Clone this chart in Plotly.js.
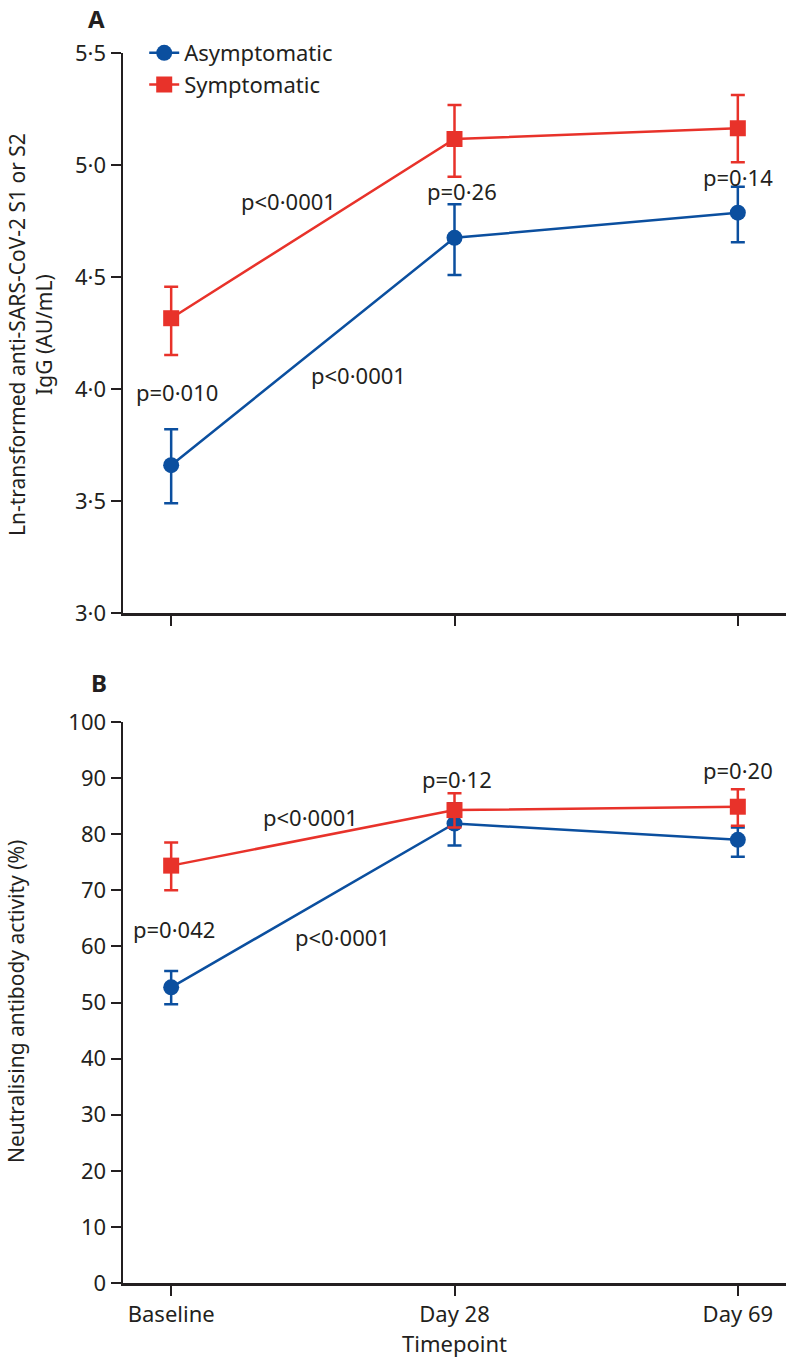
<!DOCTYPE html>
<html>
<head>
<meta charset="utf-8">
<script src="https://cdn.plot.ly/plotly-3.0.1.min.js"></script>
<style>html,body{margin:0;padding:0;background:#fff;}#chart{width:788px;height:1360px;}</style>
</head>
<body>
<div id="chart"></div>
<script>
// ---- Data ----
const timepoints = ["Baseline", "Day 28", "Day 69"];

// Panel A: Ln-transformed anti-SARS-CoV-2 S1 or S2 IgG (AU/mL)
const igAsym      = [3.66, 4.675, 4.787];
const igAsymPlus  = [0.16, 0.15, 0.116];
const igAsymMinus = [0.17, 0.166, 0.132];
const igSymp      = [4.316, 5.116, 5.164];
const igSympPlus  = [0.141, 0.152, 0.148];
const igSympMinus = [0.164, 0.168, 0.152];

// Panel B: Neutralising antibody activity (%)
const naAsym      = [52.7, 81.9, 79.0];
const naAsymPlus  = [2.9, 3.6, 2.2];
const naAsymMinus = [3.0, 3.9, 3.0];
const naSymp      = [74.4, 84.3, 84.9];
const naSympPlus  = [4.1, 3.0, 3.1];
const naSympMinus = [4.4, 3.1, 3.4];

const yTicksA = [3.0, 3.5, 4.0, 4.5, 5.0, 5.5];
const yTickTextA = ["3·0", "3·5", "4·0", "4·5", "5·0", "5·5"];
const yTicksB = [0, 10, 20, 30, 40, 50, 60, 70, 80, 90, 100];

const pLabelsA = ["p<0·0001", "p=0·26", "p=0·14", "p=0·010", "p<0·0001"];
const pLabelsB = ["p<0·0001", "p=0·12", "p=0·20", "p=0·042", "p<0·0001"];

// ---- Style ----
const BLUE = "#0b4f9f";
const RED = "#e8322a";
const INK = "#231f20";
const FONT = "Noto Sans, Open Sans, sans-serif";
const FS = 22;

function series(name, y, plus, minus, color, symbol, xa, ya, show) {
  return {
    type: "scatter", mode: "lines+markers", name: name,
    x: timepoints, y: y, xaxis: xa, yaxis: ya, showlegend: show, legendgroup: name,
    line: {color: color, width: 2.5},
    marker: {color: color, symbol: symbol, size: 16},
    error_y: {type: "data", symmetric: false, array: plus, arrayminus: minus,
              color: color, thickness: 2.5, width: 7},
    cliponaxis: false
  };
}

const traces = [
  series("Asymptomatic", igAsym, igAsymPlus, igAsymMinus, BLUE, "circle", "x", "y", true),
  series("Symptomatic", igSymp, igSympPlus, igSympMinus, RED, "square", "x", "y", true),
  series("Asymptomatic", naAsym, naAsymPlus, naAsymMinus, BLUE, "circle", "x2", "y2", false),
  series("Symptomatic", naSymp, naSympPlus, naSympMinus, RED, "square", "x2", "y2", false)
];

const T = 53, B = 77, H = 1360 - T - B;
const pxToPaperY = py => (1360 - B - py) / H;

const axisCommon = {
  showline: true, linecolor: INK, linewidth: 2.5,
  ticks: "outside", ticklen: 10, tickwidth: 2, tickcolor: INK,
  showgrid: false, zeroline: false,
  tickfont: {family: FONT, size: FS, color: INK}
};

function pAnn(text, x, y, xr, yr) {
  return {text: text, x: x, y: y, xref: xr, yref: yr, showarrow: false,
          xanchor: "center", yanchor: "middle",
          font: {family: FONT, size: FS, color: INK}};
}

const annotations = [
  pAnn(pLabelsA[0], 0.413, 4.839, "x", "y"),
  pAnn(pLabelsA[1], 1.026, 4.884, "x", "y"),
  pAnn(pLabelsA[2], 2.0, 4.946, "x", "y"),
  pAnn(pLabelsA[3], 0.021, 3.987, "x", "y"),
  pAnn(pLabelsA[4], 0.66, 4.0625, "x", "y"),
  pAnn(pLabelsB[0], 0.49, 83.07, "x2", "y2"),
  pAnn(pLabelsB[1], 1.01, 89.84, "x2", "y2"),
  pAnn(pLabelsB[2], 2.0, 91.44, "x2", "y2"),
  pAnn(pLabelsB[3], 0.01, 63.1, "x2", "y2"),
  pAnn(pLabelsB[4], 0.603, 61.68, "x2", "y2"),
  // panel letters
  {text: "<b>A</b>", xref: "paper", yref: "paper", x: 0, xshift: 96 - 123, y: pxToPaperY(0),
   showarrow: false, xanchor: "center", yanchor: "top", font: {family: FONT, size: 24, color: INK}},
  {text: "<b>B</b>", xref: "paper", yref: "paper", x: 0, xshift: 99 - 123, y: pxToPaperY(682),
   showarrow: false, xanchor: "center", yanchor: "middle", font: {family: FONT, size: 24, color: INK}},
  // axis titles
  {text: "Ln-transformed anti-SARS-CoV-2 S1 or S2<br>IgG (AU/mL)", xref: "paper", yref: "paper",
   x: 0, xshift: 30 - 123, y: pxToPaperY(335), textangle: -90, showarrow: false,
   xanchor: "center", yanchor: "middle", font: {family: FONT, size: 21, color: INK}},
  {text: "Neutralising antibody activity (%)", xref: "paper", yref: "paper",
   x: 0, xshift: 16 - 123, y: pxToPaperY(1002), textangle: -90, showarrow: false,
   xanchor: "center", yanchor: "middle", font: {family: FONT, size: 21, color: INK}}
];

const layout = {
  width: 788, height: 1360,
  margin: {l: 123, r: 2, t: T, b: B},
  paper_bgcolor: "#fff", plot_bgcolor: "#fff",
  font: {family: FONT, size: FS, color: INK},
  showlegend: true,
  legend: {x: 0.032, y: pxToPaperY(32), xanchor: "left", yanchor: "top",
           bgcolor: "rgba(0,0,0,0)", font: {family: FONT, size: FS, color: INK},
           tracegroupgap: 0, itemwidth: 30},
  xaxis: Object.assign({}, axisCommon, {anchor: "y", domain: [0, 1], type: "category",
           range: [-0.17, 2.17], showticklabels: false}),
  yaxis: Object.assign({}, axisCommon, {anchor: "x", domain: [pxToPaperY(613), 1],
           range: [3.0, 5.5], tickvals: yTicksA, ticktext: yTickTextA}),
  xaxis2: Object.assign({}, axisCommon, {anchor: "y2", domain: [0, 1], type: "category",
           range: [-0.17, 2.17], ticklabelstandoff: 0,
           title: {text: "Timepoint", font: {family: FONT, size: FS, color: INK}, standoff: 10}}),
  yaxis2: Object.assign({}, axisCommon, {anchor: "x2", domain: [0, pxToPaperY(722)],
           range: [0, 100], tickvals: yTicksB}),
  annotations: annotations
};

Plotly.newPlot("chart", traces, layout, {displayModeBar: false, staticPlot: true});
</script>
</body>
</html>
